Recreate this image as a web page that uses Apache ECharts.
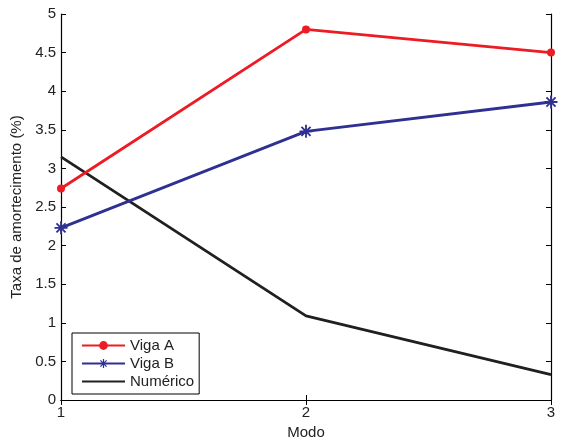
<!DOCTYPE html>
<html><head><meta charset="utf-8">
<script src="https://cdn.jsdelivr.net/npm/echarts@6/dist/echarts.min.js"></script>
<style>html,body{margin:0;padding:0;background:#fff}#c{width:563px;height:441px}</style>
</head><body><div id="c"></div>
<script>
const modes = [1, 2, 3];
const vigaA = [2.74, 4.80, 4.50];
const vigaB = [2.23, 3.48, 3.86];
const numerico = [3.15, 1.09, 0.33];
const seriesNames = ['Viga A', 'Viga B', 'Numérico'];
const xAxisName = 'Modo';
const yAxisName = 'Taxa de amortecimento (%)';

const pairs = v => modes.map((m, i) => [m, v[i]]);
const asterisk = 'path://M8.6,0L11.4,0L11.4,20L8.6,20Z M0,8.6L20,8.6L20,11.4L0,11.4Z M2,4L4,2L18,16L16,18Z M16,2L18,4L4,18L2,16Z';
const font = 'Liberation Sans, Arial, sans-serif';
const axisLine = {show: true, lineStyle: {color: '#000', width: 1.2}};
const tickIn = {show: true, inside: true, length: 5, lineStyle: {color: '#000', width: 1}};

const chart = echarts.init(document.getElementById('c'));
chart.setOption({
  animation: false,
  backgroundColor: '#fff',
  grid: {left: 61, right: 12, top: 14, bottom: 41, containLabel: false, outerBoundsMode: 'none'},
  xAxis: [
    {type: 'value', min: 1, max: 3, interval: 1, position: 'bottom',
     name: xAxisName, nameLocation: 'middle', nameGap: 24,
     nameTextStyle: {fontFamily: font, fontSize: 15, color: '#222'},
     axisLine, axisTick: tickIn, splitLine: {show: false},
     axisLabel: {fontFamily: font, fontSize: 15, color: '#222', margin: 5}},
    {type: 'value', min: 1, max: 3, interval: 1, position: 'top',
     axisLine, axisTick: tickIn, splitLine: {show: false}, axisLabel: {show: false}}
  ],
  yAxis: [
    {type: 'value', min: 0, max: 5, interval: 0.5, position: 'left',
     name: yAxisName, nameLocation: 'middle', nameGap: 30, nameRotate: 90,
     nameTextStyle: {fontFamily: font, fontSize: 15, color: '#222'},
     axisLine, axisTick: tickIn, splitLine: {show: false},
     axisLabel: {fontFamily: font, fontSize: 15, color: '#222', margin: 5}},
    {type: 'value', min: 0, max: 5, interval: 0.5, position: 'right',
     axisLine, axisTick: tickIn, splitLine: {show: false}, axisLabel: {show: false}}
  ],
  legend: {
    orient: 'vertical', left: 72, top: 333,
    padding: [4, 5, 4, 9], itemGap: 1, itemWidth: 43, itemHeight: 11,
    backgroundColor: '#fff', borderColor: '#000', borderWidth: 1,
    textStyle: {fontFamily: font, fontSize: 15, color: '#222', lineHeight: 17},
    data: [
      {name: seriesNames[0]},
      {name: seriesNames[1]},
      {name: seriesNames[2], itemStyle: {opacity: 0}}
    ]
  },
  series: [
    {name: seriesNames[0], type: 'line', data: pairs(vigaA), symbol: 'circle', symbolSize: 8,
     lineStyle: {color: '#ED1C24', width: 2.8}, itemStyle: {color: '#ED1C24'}, z: 3},
    {name: seriesNames[1], type: 'line', data: pairs(vigaB), symbol: asterisk, symbolSize: 13,
     lineStyle: {color: '#2E3192', width: 2.8}, itemStyle: {color: '#2E3192'}, z: 3},
    {name: seriesNames[2], type: 'line', data: pairs(numerico), symbol: 'none',
     lineStyle: {color: '#231F20', width: 2.8}, itemStyle: {color: '#231F20'}, z: 2}
  ]
});
</script></body></html>
